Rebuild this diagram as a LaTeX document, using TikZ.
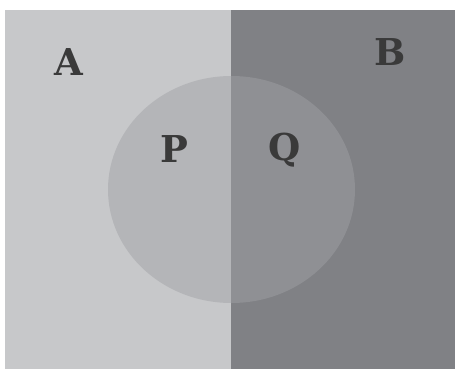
\documentclass[tikz,border=0pt]{standalone}
\usepackage{fontspec}
\setmainfont{DejaVu Serif}
\definecolor{lightreg}{HTML}{C7C8CA}
\definecolor{darkreg}{HTML}{808185}
\definecolor{lightcirc}{HTML}{B4B5B8}
\definecolor{darkcirc}{HTML}{8F9094}
\definecolor{lettercol}{HTML}{3A3A3A}
\tikzset{
  setlabel/.style={anchor=base, inner sep=0pt, text=lettercol, font=\fontsize{37}{40}\selectfont\bfseries}
}
\begin{document}
\begin{tikzpicture}[x=1pt,y=-1pt]
\useasboundingbox (0,0) rectangle (455,369);
\fill[white] (0,0) rectangle (455,369);
\fill[lightreg] (5,10) rectangle (231,369);
\fill[darkreg] (231,10) rectangle (455,369);
\begin{scope}
  \clip (5,10) rectangle (231,369);
  \fill[lightcirc] (231.5,189.5) ellipse [x radius=123.5, y radius=113.5];
\end{scope}
\begin{scope}
  \clip (231,10) rectangle (455,369);
  \fill[darkcirc] (231.5,189.5) ellipse [x radius=123.5, y radius=113.5];
\end{scope}
\node[setlabel] (A) at (68.5,75) {A};
\node[setlabel] (B) at (390.5,66) {B};
\node[setlabel] (P) at (174.5,162) {P};
\node[setlabel] (Q) at (284.5,160) {Q};
\end{tikzpicture}
\end{document}
